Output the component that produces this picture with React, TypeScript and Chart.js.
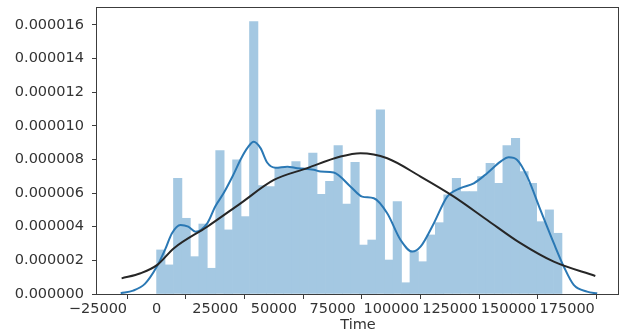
import React, { useEffect, useRef } from 'react';
import { Chart, registerables } from 'chart.js';

Chart.register(...registerables);

// Histogram (48 equal bins starting at 0), heights in units of 1e-6
const binStart = 0;
const binWidth = 3600;
const barHeights = [
  2.62, 1.73, 6.88, 4.5, 2.22, 4.16, 1.53, 8.53, 3.81, 7.97,
  4.6, 16.2, 6.44, 6.38, 7.48, 7.48, 7.87, 7.48, 8.37, 5.92,
  6.7, 8.82, 5.35, 7.83, 2.91, 3.21, 10.95, 2.02, 5.49, 0.67,
  2.52, 1.92, 3.51, 4.24, 5.89, 6.88, 6.09, 6.09, 6.98, 7.77,
  6.58, 8.82, 9.26, 7.28, 6.58, 4.3, 5.0, 3.61,
];

// KDE curve (blue)
const kdeX = [
  -15300, -10000, -5000, 0, 3800, 6500, 10200, 13500, 16600, 21600,
  25000, 28600, 32400, 36200, 38800, 41400, 44300, 47200, 50700, 55700,
  60000, 67000, 69900, 75500, 82700, 87600, 92600, 98300, 104000, 109000,
  112500, 118200, 123900, 129500, 135200, 140900, 146600, 150100, 153700, 158000,
  163600, 169300, 173600, 177800, 183500, 187800,
];
const kdeY = [
  0.05, 0.2, 0.6, 1.6, 2.7, 3.6, 4.1, 4.0, 3.7, 4.2,
  5.2, 6.0, 7.0, 8.1, 8.7, 9.05, 8.67, 7.8, 7.5, 7.57,
  7.48, 7.38, 7.28, 7.22, 6.38, 5.79, 5.69, 4.8, 3.21, 2.52,
  2.81, 4.21, 5.79, 6.29, 6.58, 7.18, 7.87, 8.13, 7.97, 6.98,
  5.0, 3.02, 1.62, 0.54, 0.14, 0.04,
];

// Fitted normal curve (black)
const normX = [
  -14900, -6800, 300, 7400, 21600, 35800, 50000, 64200, 78400, 86900,
  98300, 112500, 126700, 140900, 155100, 169300, 187000,
];
const normY = [
  0.93, 1.23, 1.73, 2.72, 4.0, 5.39, 6.78, 7.48, 8.17, 8.37,
  8.07, 6.98, 5.79, 4.4, 3.02, 1.92, 1.07,
];

const xTicks = [-25000, 0, 25000, 50000, 75000, 100000, 125000, 150000, 175000];
const yTicks = [0, 2, 4, 6, 8, 10, 12, 14, 16];
const UNIT = 1e-6;
const xLabel = 'Time';

export default function App() {
  const ref = useRef<HTMLCanvasElement>(null);

  useEffect(() => {
    if (!ref.current) return;
    const font = { family: 'DejaVu Sans', size: 14.5 };
    const frame = {
      id: 'frame',
      afterDatasetsDraw(chart: any) {
        const { ctx, chartArea: a } = chart;
        ctx.save();
        ctx.strokeStyle = '#3c3c3c';
        ctx.lineWidth = 1;
        ctx.strokeRect(a.left - 0.5, a.top - 0.5, a.right - a.left, a.bottom - a.top + 1);
        ctx.restore();
      },
    };
    const chart = new Chart(ref.current, {
      type: 'bar',
      data: {
        datasets: [
          {
            type: 'line',
            data: normX.map((x, i) => ({ x, y: normY[i] * UNIT })),
            borderColor: '#262626',
            borderWidth: 2,
            pointRadius: 0,
            cubicInterpolationMode: 'monotone',
            fill: false,
            order: 1,
          } as any,
          {
            type: 'line',
            data: kdeX.map((x, i) => ({ x, y: kdeY[i] * UNIT })),
            borderColor: '#2a78b4',
            borderWidth: 2,
            pointRadius: 0,
            cubicInterpolationMode: 'monotone',
            fill: false,
            order: 2,
          } as any,
          {
            type: 'bar',
            data: barHeights.map((h, i) => ({ x: binStart + binWidth * (i + 0.5), y: h * UNIT })),
            backgroundColor: 'rgb(164,200,226)',
            borderWidth: 0,
            barPercentage: 1,
            categoryPercentage: 1,
            order: 3,
          } as any,
        ],
      },
      options: {
        animation: false,
        responsive: false,
        maintainAspectRatio: false,
        layout: { padding: { top: 8, right: 1, left: 0, bottom: 0 } },
        plugins: { legend: { display: false }, tooltip: { enabled: false } },
        scales: {
          x: {
            type: 'linear',
            offset: false,
            min: -25400,
            max: 197100,
            afterFit: (s: any) => {
              s.height = 41;
              s.paddingLeft = 0;
              s.paddingRight = 0;
            },
            afterBuildTicks: (s: any) => { s.ticks = xTicks.map((v) => ({ value: v })); },
            grid: { display: true, drawOnChartArea: false, drawTicks: true, tickLength: 5, tickColor: '#3c3c3c' },
            border: { display: false },
            ticks: {
              autoSkip: false,
              maxRotation: 0,
              minRotation: 0,
              padding: 2,
              color: '#333',
              font,
              callback: (v: any) => (v < 0 ? '\u2212' + Math.abs(v) : String(v)),
            },
            title: { display: true, text: xLabel, color: '#333', font, padding: { top: 0, bottom: 1 } },
          },
          y: {
            type: 'linear',
            min: 0,
            max: 17.0 * UNIT,
            afterFit: (s: any) => {
              s.width = 97;
              s.paddingTop = 0;
              s.paddingBottom = 0;
            },
            afterBuildTicks: (s: any) => { s.ticks = yTicks.map((v) => ({ value: v * UNIT })); },
            grid: { display: true, drawOnChartArea: false, drawTicks: true, tickLength: 5, tickColor: '#3c3c3c' },
            border: { display: false },
            ticks: {
              padding: 8,
              color: '#333',
              font,
              callback: (v: any) => Number(v).toFixed(6),
            },
          },
        },
      },
      plugins: [frame],
    } as any);
    return () => chart.destroy();
  }, []);

  return (
    <div style={{ position: 'fixed', left: 0, top: 0, width: 620, height: 335, background: '#fff' }}>
      <canvas ref={ref} width={620} height={335} style={{ width: 620, height: 335 }} />
    </div>
  );
}
